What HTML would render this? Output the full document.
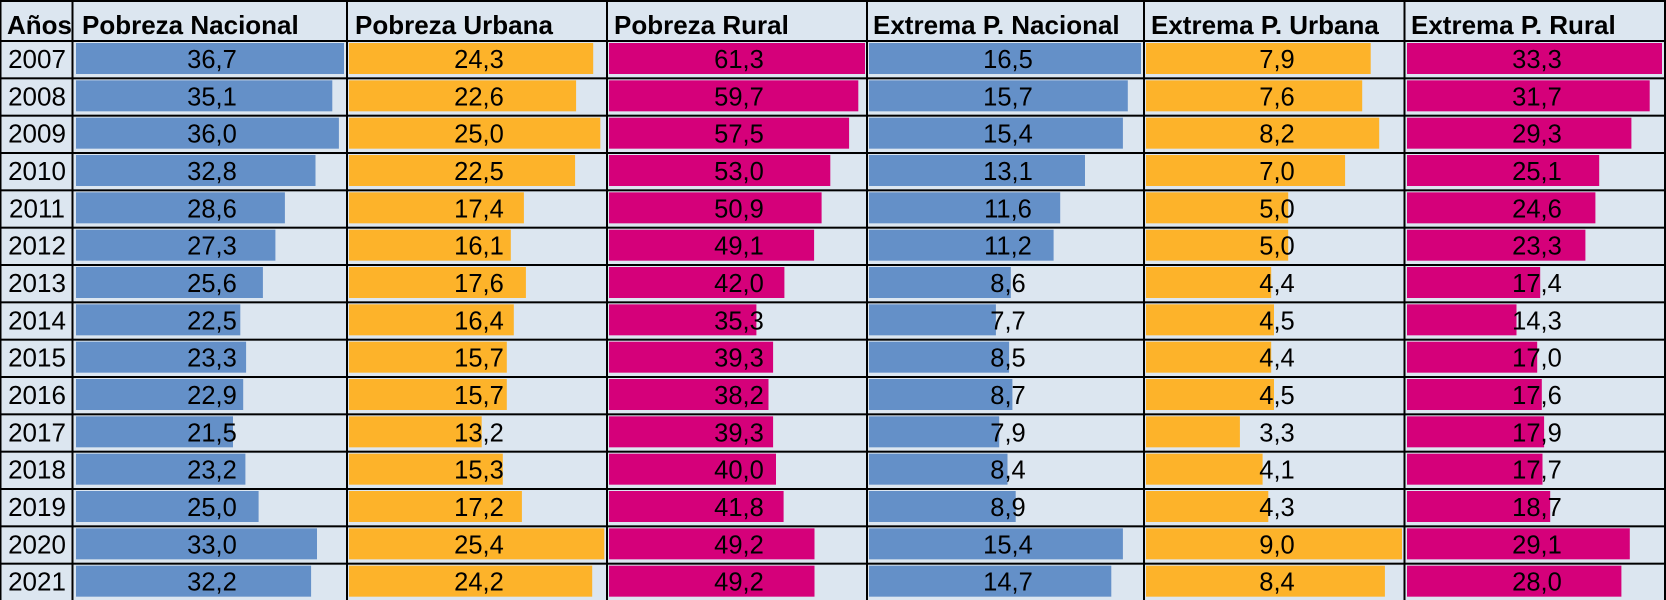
<!DOCTYPE html>
<html>
<head>
<meta charset="utf-8">
<style>
html,body{margin:0;padding:0;background:#dce6f0;}
svg{display:block;}
text{font-family:"Liberation Sans",Arial,sans-serif;fill:#000;}
.h{font-size:26px;font-weight:bold;}
.y{font-size:26px;text-anchor:middle;}
.v{font-size:25.5px;text-anchor:middle;}
</style>
</head>
<body>
<svg width="1666" height="600" viewBox="0 0 1666 600" xmlns="http://www.w3.org/2000/svg">
<rect x="0" y="0" width="1666" height="600" fill="#dce6f0"/>

<!-- header -->
<text class="h" x="7" y="34">Años</text>
<text class="h" x="82" y="34">Pobreza Nacional</text>
<text class="h" x="355" y="34">Pobreza Urbana</text>
<text class="h" x="614" y="34">Pobreza Rural</text>
<text class="h" x="873" y="34">Extrema P. Nacional</text>
<text class="h" x="1151" y="34">Extrema P. Urbana</text>
<text class="h" x="1411" y="34">Extrema P. Rural</text>

<!-- rows -->
<g transform="translate(0,40)">
<rect x="76" y="3" width="268" height="31" fill="#6490c8"/>
<rect x="349" y="3" width="244.2" height="31" fill="#fdb32a"/>
<rect x="609" y="3" width="256" height="31" fill="#d5007a"/>
<rect x="869" y="3" width="272" height="31" fill="#6490c8"/>
<rect x="1146" y="3" width="224.7" height="31" fill="#fdb32a"/>
<rect x="1407" y="3" width="255" height="31" fill="#d5007a"/>
<text class="y" x="37" y="28">2007</text>
<text class="v" x="212" y="28">36,7</text><text class="v" x="479" y="28">24,3</text><text class="v" x="739" y="28">61,3</text><text class="v" x="1008" y="28">16,5</text><text class="v" x="1277" y="28">7,9</text><text class="v" x="1537" y="28">33,3</text>
</g>
<g transform="translate(0,77.33)">
<rect x="76" y="3" width="256.3" height="31" fill="#6490c8"/>
<rect x="349" y="3" width="227.1" height="31" fill="#fdb32a"/>
<rect x="609" y="3" width="249.3" height="31" fill="#d5007a"/>
<rect x="869" y="3" width="258.8" height="31" fill="#6490c8"/>
<rect x="1146" y="3" width="216.2" height="31" fill="#fdb32a"/>
<rect x="1407" y="3" width="242.7" height="31" fill="#d5007a"/>
<text class="y" x="37" y="28">2008</text>
<text class="v" x="212" y="28">35,1</text><text class="v" x="479" y="28">22,6</text><text class="v" x="739" y="28">59,7</text><text class="v" x="1008" y="28">15,7</text><text class="v" x="1277" y="28">7,6</text><text class="v" x="1537" y="28">31,7</text>
</g>
<g transform="translate(0,114.67)">
<rect x="76" y="3" width="262.9" height="31" fill="#6490c8"/>
<rect x="349" y="3" width="251.3" height="31" fill="#fdb32a"/>
<rect x="609" y="3" width="240.1" height="31" fill="#d5007a"/>
<rect x="869" y="3" width="253.9" height="31" fill="#6490c8"/>
<rect x="1146" y="3" width="233.2" height="31" fill="#fdb32a"/>
<rect x="1407" y="3" width="224.4" height="31" fill="#d5007a"/>
<text class="y" x="37" y="28">2009</text>
<text class="v" x="212" y="28">36,0</text><text class="v" x="479" y="28">25,0</text><text class="v" x="739" y="28">57,5</text><text class="v" x="1008" y="28">15,4</text><text class="v" x="1277" y="28">8,2</text><text class="v" x="1537" y="28">29,3</text>
</g>
<g transform="translate(0,152)">
<rect x="76" y="3" width="239.5" height="31" fill="#6490c8"/>
<rect x="349" y="3" width="226.1" height="31" fill="#fdb32a"/>
<rect x="609" y="3" width="221.3" height="31" fill="#d5007a"/>
<rect x="869" y="3" width="216" height="31" fill="#6490c8"/>
<rect x="1146" y="3" width="199.1" height="31" fill="#fdb32a"/>
<rect x="1407" y="3" width="192.2" height="31" fill="#d5007a"/>
<text class="y" x="37" y="28">2010</text>
<text class="v" x="212" y="28">32,8</text><text class="v" x="479" y="28">22,5</text><text class="v" x="739" y="28">53,0</text><text class="v" x="1008" y="28">13,1</text><text class="v" x="1277" y="28">7,0</text><text class="v" x="1537" y="28">25,1</text>
</g>
<g transform="translate(0,189.33)">
<rect x="76" y="3" width="208.9" height="31" fill="#6490c8"/>
<rect x="349" y="3" width="174.9" height="31" fill="#fdb32a"/>
<rect x="609" y="3" width="212.6" height="31" fill="#d5007a"/>
<rect x="869" y="3" width="191.2" height="31" fill="#6490c8"/>
<rect x="1146" y="3" width="142.2" height="31" fill="#fdb32a"/>
<rect x="1407" y="3" width="188.4" height="31" fill="#d5007a"/>
<text class="y" x="37" y="28">2011</text>
<text class="v" x="212" y="28">28,6</text><text class="v" x="479" y="28">17,4</text><text class="v" x="739" y="28">50,9</text><text class="v" x="1008" y="28">11,6</text><text class="v" x="1277" y="28">5,0</text><text class="v" x="1537" y="28">24,6</text>
</g>
<g transform="translate(0,226.67)">
<rect x="76" y="3" width="199.4" height="31" fill="#6490c8"/>
<rect x="349" y="3" width="161.8" height="31" fill="#fdb32a"/>
<rect x="609" y="3" width="205.1" height="31" fill="#d5007a"/>
<rect x="869" y="3" width="184.6" height="31" fill="#6490c8"/>
<rect x="1146" y="3" width="142.2" height="31" fill="#fdb32a"/>
<rect x="1407" y="3" width="178.4" height="31" fill="#d5007a"/>
<text class="y" x="37" y="28">2012</text>
<text class="v" x="212" y="28">27,3</text><text class="v" x="479" y="28">16,1</text><text class="v" x="739" y="28">49,1</text><text class="v" x="1008" y="28">11,2</text><text class="v" x="1277" y="28">5,0</text><text class="v" x="1537" y="28">23,3</text>
</g>
<g transform="translate(0,264)">
<rect x="76" y="3" width="186.9" height="31" fill="#6490c8"/>
<rect x="349" y="3" width="176.9" height="31" fill="#fdb32a"/>
<rect x="609" y="3" width="175.4" height="31" fill="#d5007a"/>
<rect x="869" y="3" width="141.8" height="31" fill="#6490c8"/>
<rect x="1146" y="3" width="125.2" height="31" fill="#fdb32a"/>
<rect x="1407" y="3" width="133.2" height="31" fill="#d5007a"/>
<text class="y" x="37" y="28">2013</text>
<text class="v" x="212" y="28">25,6</text><text class="v" x="479" y="28">17,6</text><text class="v" x="739" y="28">42,0</text><text class="v" x="1008" y="28">8,6</text><text class="v" x="1277" y="28">4,4</text><text class="v" x="1537" y="28">17,4</text>
</g>
<g transform="translate(0,301.33)">
<rect x="76" y="3" width="164.3" height="31" fill="#6490c8"/>
<rect x="349" y="3" width="164.8" height="31" fill="#fdb32a"/>
<rect x="609" y="3" width="147.4" height="31" fill="#d5007a"/>
<rect x="869" y="3" width="126.9" height="31" fill="#6490c8"/>
<rect x="1146" y="3" width="128" height="31" fill="#fdb32a"/>
<rect x="1407" y="3" width="109.5" height="31" fill="#d5007a"/>
<text class="y" x="37" y="28">2014</text>
<text class="v" x="212" y="28">22,5</text><text class="v" x="479" y="28">16,4</text><text class="v" x="739" y="28">35,3</text><text class="v" x="1008" y="28">7,7</text><text class="v" x="1277" y="28">4,5</text><text class="v" x="1537" y="28">14,3</text>
</g>
<g transform="translate(0,338.67)">
<rect x="76" y="3" width="170.1" height="31" fill="#6490c8"/>
<rect x="349" y="3" width="157.8" height="31" fill="#fdb32a"/>
<rect x="609" y="3" width="164.1" height="31" fill="#d5007a"/>
<rect x="869" y="3" width="140.1" height="31" fill="#6490c8"/>
<rect x="1146" y="3" width="125.2" height="31" fill="#fdb32a"/>
<rect x="1407" y="3" width="130.2" height="31" fill="#d5007a"/>
<text class="y" x="37" y="28">2015</text>
<text class="v" x="212" y="28">23,3</text><text class="v" x="479" y="28">15,7</text><text class="v" x="739" y="28">39,3</text><text class="v" x="1008" y="28">8,5</text><text class="v" x="1277" y="28">4,4</text><text class="v" x="1537" y="28">17,0</text>
</g>
<g transform="translate(0,376)">
<rect x="76" y="3" width="167.2" height="31" fill="#6490c8"/>
<rect x="349" y="3" width="157.8" height="31" fill="#fdb32a"/>
<rect x="609" y="3" width="159.5" height="31" fill="#d5007a"/>
<rect x="869" y="3" width="143.4" height="31" fill="#6490c8"/>
<rect x="1146" y="3" width="128" height="31" fill="#fdb32a"/>
<rect x="1407" y="3" width="134.8" height="31" fill="#d5007a"/>
<text class="y" x="37" y="28">2016</text>
<text class="v" x="212" y="28">22,9</text><text class="v" x="479" y="28">15,7</text><text class="v" x="739" y="28">38,2</text><text class="v" x="1008" y="28">8,7</text><text class="v" x="1277" y="28">4,5</text><text class="v" x="1537" y="28">17,6</text>
</g>
<g transform="translate(0,413.33)">
<rect x="76" y="3" width="157" height="31" fill="#6490c8"/>
<rect x="349" y="3" width="132.7" height="31" fill="#fdb32a"/>
<rect x="609" y="3" width="164.1" height="31" fill="#d5007a"/>
<rect x="869" y="3" width="130.2" height="31" fill="#6490c8"/>
<rect x="1146" y="3" width="93.9" height="31" fill="#fdb32a"/>
<rect x="1407" y="3" width="137.1" height="31" fill="#d5007a"/>
<text class="y" x="37" y="28">2017</text>
<text class="v" x="212" y="28">21,5</text><text class="v" x="479" y="28">13,2</text><text class="v" x="739" y="28">39,3</text><text class="v" x="1008" y="28">7,9</text><text class="v" x="1277" y="28">3,3</text><text class="v" x="1537" y="28">17,9</text>
</g>
<g transform="translate(0,450.67)">
<rect x="76" y="3" width="169.4" height="31" fill="#6490c8"/>
<rect x="349" y="3" width="153.8" height="31" fill="#fdb32a"/>
<rect x="609" y="3" width="167" height="31" fill="#d5007a"/>
<rect x="869" y="3" width="138.5" height="31" fill="#6490c8"/>
<rect x="1146" y="3" width="116.6" height="31" fill="#fdb32a"/>
<rect x="1407" y="3" width="135.5" height="31" fill="#d5007a"/>
<text class="y" x="37" y="28">2018</text>
<text class="v" x="212" y="28">23,2</text><text class="v" x="479" y="28">15,3</text><text class="v" x="739" y="28">40,0</text><text class="v" x="1008" y="28">8,4</text><text class="v" x="1277" y="28">4,1</text><text class="v" x="1537" y="28">17,7</text>
</g>
<g transform="translate(0,488)">
<rect x="76" y="3" width="182.6" height="31" fill="#6490c8"/>
<rect x="349" y="3" width="172.9" height="31" fill="#fdb32a"/>
<rect x="609" y="3" width="174.6" height="31" fill="#d5007a"/>
<rect x="869" y="3" width="146.7" height="31" fill="#6490c8"/>
<rect x="1146" y="3" width="122.3" height="31" fill="#fdb32a"/>
<rect x="1407" y="3" width="143.2" height="31" fill="#d5007a"/>
<text class="y" x="37" y="28">2019</text>
<text class="v" x="212" y="28">25,0</text><text class="v" x="479" y="28">17,2</text><text class="v" x="739" y="28">41,8</text><text class="v" x="1008" y="28">8,9</text><text class="v" x="1277" y="28">4,3</text><text class="v" x="1537" y="28">18,7</text>
</g>
<g transform="translate(0,525.33)">
<rect x="76" y="3" width="241" height="31" fill="#6490c8"/>
<rect x="349" y="3" width="255.3" height="31" fill="#fdb32a"/>
<rect x="609" y="3" width="205.5" height="31" fill="#d5007a"/>
<rect x="869" y="3" width="253.9" height="31" fill="#6490c8"/>
<rect x="1146" y="3" width="256" height="31" fill="#fdb32a"/>
<rect x="1407" y="3" width="222.8" height="31" fill="#d5007a"/>
<text class="y" x="37" y="28">2020</text>
<text class="v" x="212" y="28">33,0</text><text class="v" x="479" y="28">25,4</text><text class="v" x="739" y="28">49,2</text><text class="v" x="1008" y="28">15,4</text><text class="v" x="1277" y="28">9,0</text><text class="v" x="1537" y="28">29,1</text>
</g>
<g transform="translate(0,562.67)">
<rect x="76" y="3" width="235.1" height="31" fill="#6490c8"/>
<rect x="349" y="3" width="243.2" height="31" fill="#fdb32a"/>
<rect x="609" y="3" width="205.5" height="31" fill="#d5007a"/>
<rect x="869" y="3" width="242.3" height="31" fill="#6490c8"/>
<rect x="1146" y="3" width="238.9" height="31" fill="#fdb32a"/>
<rect x="1407" y="3" width="214.4" height="31" fill="#d5007a"/>
<text class="y" x="37" y="28">2021</text>
<text class="v" x="212" y="28">32,2</text><text class="v" x="479" y="28">24,2</text><text class="v" x="739" y="28">49,2</text><text class="v" x="1008" y="28">14,7</text><text class="v" x="1277" y="28">8,4</text><text class="v" x="1537" y="28">28,0</text>
</g>

<!-- grid lines -->
<g fill="#000">
<rect x="0" y="0" width="1666" height="2"/>
<rect x="0" y="40" width="1666" height="2"/>
<rect x="0" y="77.33" width="1666" height="2"/>
<rect x="0" y="114.67" width="1666" height="2"/>
<rect x="0" y="152" width="1666" height="2"/>
<rect x="0" y="189.33" width="1666" height="2"/>
<rect x="0" y="226.67" width="1666" height="2"/>
<rect x="0" y="264" width="1666" height="2"/>
<rect x="0" y="301.33" width="1666" height="2"/>
<rect x="0" y="338.67" width="1666" height="2"/>
<rect x="0" y="376" width="1666" height="2"/>
<rect x="0" y="413.33" width="1666" height="2"/>
<rect x="0" y="450.67" width="1666" height="2"/>
<rect x="0" y="488" width="1666" height="2"/>
<rect x="0" y="525.33" width="1666" height="2"/>
<rect x="0" y="562.67" width="1666" height="2"/>
<rect x="0" y="0" width="1.5" height="600"/>
<rect x="71.5" y="0" width="2" height="600"/>
<rect x="346" y="0" width="2" height="600"/>
<rect x="606" y="0" width="2" height="600"/>
<rect x="866" y="0" width="2" height="600"/>
<rect x="1143" y="0" width="2" height="600"/>
<rect x="1403.5" y="0" width="2" height="600"/>
<rect x="1664" y="0" width="2" height="600"/>
</g>
</svg>
</body>
</html>
